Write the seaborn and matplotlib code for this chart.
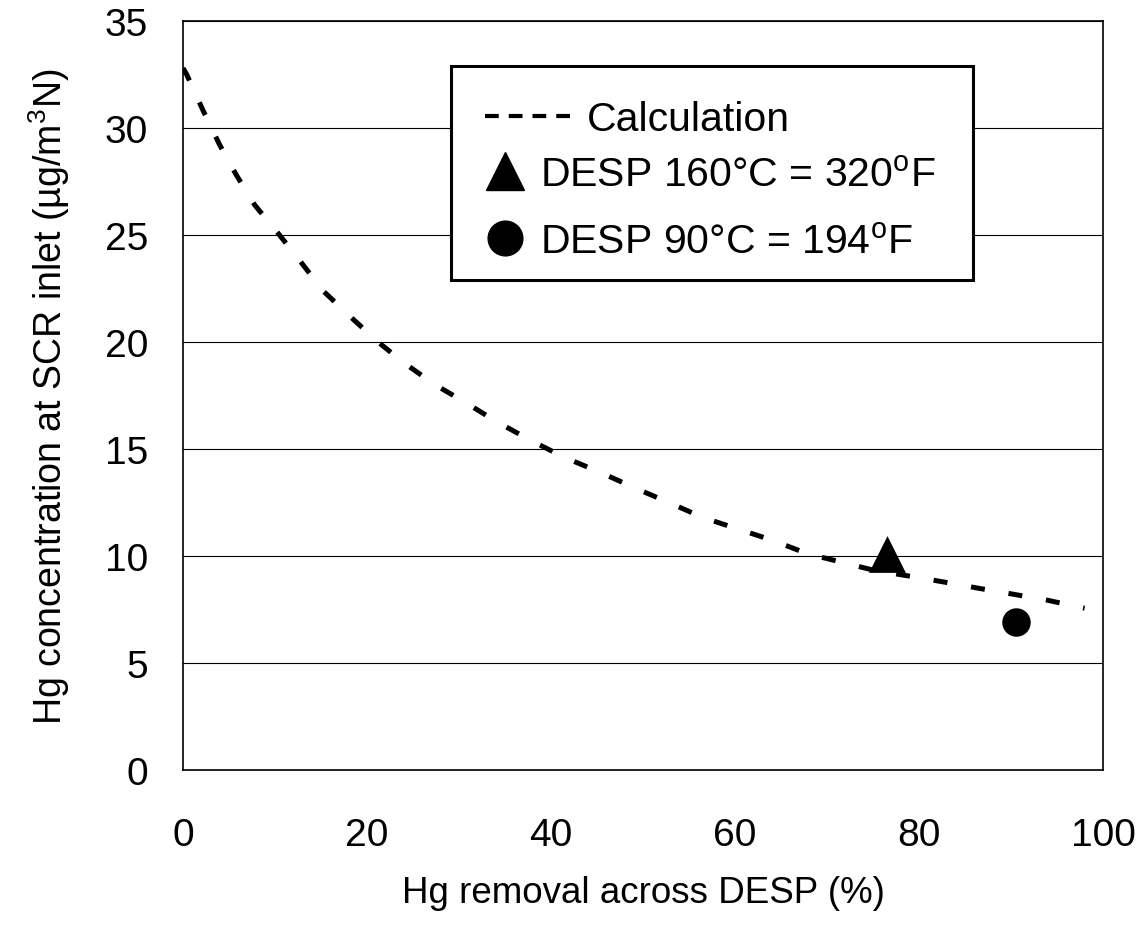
import matplotlib
matplotlib.use("Agg")
import matplotlib.pyplot as plt
from matplotlib.lines import Line2D
from matplotlib.patches import Rectangle
import pandas as pd
import seaborn as sns

# calculated curve
calc_removal = [0, 0.4, 2.2, 4.0, 5.8, 7.8, 10.3, 12.7, 15.2, 18.4, 21.2, 24.1, 27.4,
                30.6, 34.0, 37.8, 41.5, 45.4, 49.0, 52.8, 56.5, 60.4, 64.1, 67.9,
                71.7, 75.1, 79.1, 82.9, 86.5, 90.3, 94.0, 98.0]
calc_conc = [32.8, 32.5, 30.8, 29.2, 27.8, 26.4, 25.1, 23.8, 22.4, 21.1, 20.0, 19.0, 18.0,
             17.2, 16.3, 15.4, 14.6, 13.9, 13.2, 12.5, 11.8, 11.25, 10.73, 10.1,
             9.7, 9.33, 9.05, 8.77, 8.49, 8.21, 7.93, 7.56]

# measured points
desp160_removal = [76.5]
desp160_conc = [10.1]
desp90_removal = [90.5]
desp90_conc = [6.9]

labels = ["Calculation",
          "DESP 160\u00b0C = 320$^{\\mathrm{o}}$F",
          "DESP 90\u00b0C = 194$^{\\mathrm{o}}$F"]

sns.set_theme(style="white")
plt.rcParams["font.family"] = ["Liberation Sans", "DejaVu Sans"]
plt.rcParams["mathtext.fontset"] = "custom"
plt.rcParams["mathtext.rm"] = "Liberation Sans"
plt.rcParams["mathtext.it"] = "Liberation Sans"
plt.rcParams["text.color"] = "black"
plt.rcParams["axes.labelcolor"] = "black"

fig = plt.figure(figsize=(11.38, 9.29), dpi=100)
ax = fig.add_axes([183 / 1138, 1 - 771 / 929, 920 / 1138, 749 / 929])

df = pd.DataFrame({"x": calc_removal, "y": calc_conc})
sns.lineplot(data=df, x="x", y="y", ax=ax, color="black", lw=3.6,
             dashes=False, zorder=3)
ax.lines[-1].set_dashes((2.8, 4.8))
sns.scatterplot(x=desp160_removal, y=desp160_conc, ax=ax, marker="^", s=700,
                color="black", edgecolor="black", linewidth=0, zorder=4)
sns.scatterplot(x=desp90_removal, y=desp90_conc, ax=ax, marker="o", s=420,
                color="black", edgecolor="black", linewidth=0, zorder=4)

ax.set_xlim(0, 100)
ax.set_ylim(0, 35)
ax.set_xticks(range(0, 101, 20))
ax.set_yticks(range(0, 36, 5))
ax.yaxis.grid(True, color="black", lw=0.8)
ax.set_axisbelow(True)
for s in ax.spines.values():
    s.set_color("black")
    s.set_linewidth(1.2)
ax.tick_params(axis="x", direction="in", length=11, width=0.8, color="black",
               labelsize=28, pad=34, labelcolor="black")
ax.tick_params(axis="y", direction="in", length=11, width=0.8, color="black",
               labelsize=28, pad=25, labelcolor="black")
ax.set_xlabel("Hg removal across DESP (%)", fontsize=26.5, labelpad=16)
ax.set_ylabel("Hg concentration at SCR inlet (\u00b5g/m$^{3}$N)", fontsize=27,
              labelpad=24)

# legend box
X = lambda px: (px - 183) / 920
Y = lambda py: (771 - py) / 749
ax.add_patch(Rectangle((X(451), Y(281)), X(973) - X(451), Y(67) - Y(281),
                       transform=ax.transAxes, facecolor="white", edgecolor="black",
                       lw=2.2, zorder=5))

LFS = 29.5
h_calc = Line2D([], [], color="black", lw=3, dashes=(3.3, 2.4))
leg1 = ax.legend([h_calc], labels[:1], loc="center left",
                 bbox_to_anchor=(X(485), Y(120)), frameon=False, fontsize=LFS,
                 borderpad=0, borderaxespad=0, handlelength=2.15,
                 handletextpad=0.34)
leg1.set_zorder(6)
ax.add_artist(leg1)

h_tri = Line2D([], [], color="black", marker="^", ls="none", markersize=27)
h_cir = Line2D([], [], color="black", marker="o", ls="none", markersize=25)
leg2 = ax.legend([h_tri, h_cir], labels[1:], loc="center left",
                 bbox_to_anchor=(X(488), Y(209)), frameon=False, fontsize=LFS,
                 borderpad=0, borderaxespad=0, handlelength=0.85,
                 handletextpad=0.41, labelspacing=0.72)
leg2.set_zorder(6)

fig.savefig("out.png", dpi=100)
